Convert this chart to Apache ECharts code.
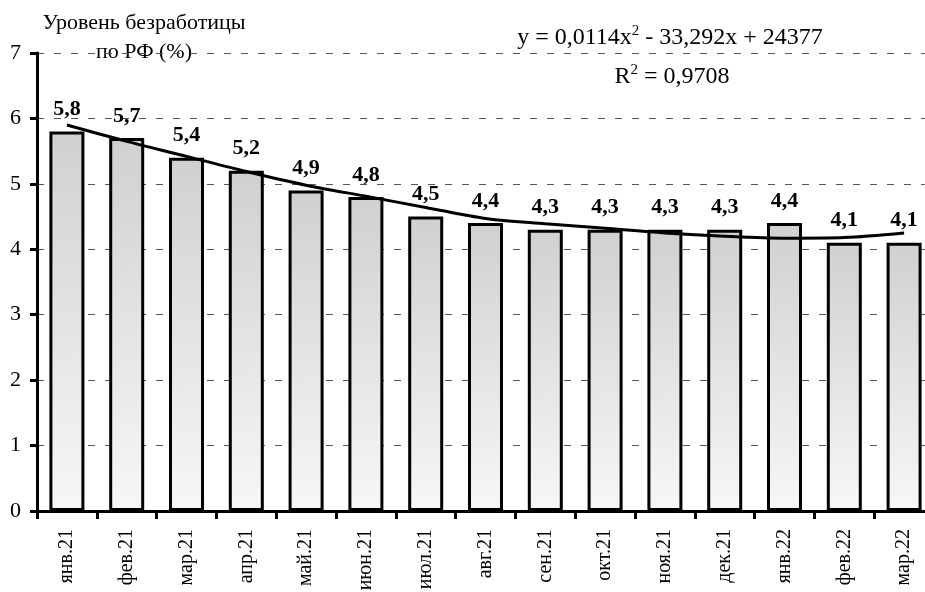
<!DOCTYPE html>
<html>
<head>
<meta charset="utf-8">
<script src="https://cdn.jsdelivr.net/npm/echarts@6/dist/echarts.min.js"></script>
<style>
  html, body { margin: 0; padding: 0; background: #fff; }
  #main { width: 925px; height: 592px; }
</style>
</head>
<body>
<div id="main"></div>
<script>
var months = ['янв.21', 'фев.21', 'мар.21', 'апр.21', 'май.21', 'июн.21', 'июл.21', 'авг.21',
    'сен.21', 'окт.21', 'ноя.21', 'дек.21', 'янв.22', 'фев.22', 'мар.22'];
var unemployment = [5.8, 5.7, 5.4, 5.2, 4.9, 4.8, 4.5, 4.4, 4.3, 4.3, 4.3, 4.3, 4.4, 4.1, 4.1];
var trend = [5.90, 5.65, 5.42, 5.19, 4.98, 4.81, 4.64, 4.47, 4.39, 4.32, 4.25, 4.20, 4.17, 4.18, 4.25];

var serif = '"Liberation Serif", "Times New Roman", serif';

var myChart = echarts.init(document.getElementById('main'));

var option = {
    animation: false,
    grid: {
        left: 37,
        width: 897,   // правый край уходит за кадр, как на исходнике
        top: 53,
        bottom: 81,
        outerBoundsMode: 'none'
    },
    graphic: [
        {
            type: 'text',
            x: 144,
            y: 9,
            style: {
                text: 'Уровень безработицы\nпо РФ (%)',
                font: '22px ' + serif,
                fill: '#000',
                align: 'center',
                lineHeight: 29
            }
        },
        {
            type: 'text',
            x: 670,
            y: 24,
            style: {
                text: '{n|y = 0,0114x}{s|2}{n| - 33,292x + 24377}',
                align: 'center',
                rich: {
                    n: { font: '24px ' + serif, fill: '#000', verticalAlign: 'bottom', lineHeight: 26 },
                    s: { font: '15px ' + serif, fill: '#000', verticalAlign: 'top', lineHeight: 26 }
                }
            }
        },
        {
            type: 'text',
            x: 672,
            y: 63,
            style: {
                text: '{n|R}{s|2}{n| = 0,9708}',
                align: 'center',
                rich: {
                    n: { font: '24px ' + serif, fill: '#000', verticalAlign: 'bottom', lineHeight: 26 },
                    s: { font: '15px ' + serif, fill: '#000', verticalAlign: 'top', lineHeight: 26 }
                }
            }
        }
    ],
    xAxis: {
        type: 'category',
        data: months,
        boundaryGap: true,
        axisLine: { lineStyle: { color: '#000', width: 3 } },
        axisTick: { show: true, length: 8, interval: 0, lineStyle: { color: '#000', width: 3 } },
        axisLabel: {
            interval: 0,
            rotate: 90,
            margin: 18,
            color: '#000',
            fontFamily: serif,
            fontSize: 20
        }
    },
    yAxis: {
        type: 'value',
        min: 0,
        max: 7,
        interval: 1,
        axisLine: { show: true, lineStyle: { color: '#000', width: 3 } },
        axisTick: { show: true, length: 7, lineStyle: { color: '#000', width: 3 } },
        axisLabel: {
            margin: 16,
            color: '#000',
            fontFamily: serif,
            fontSize: 22
        },
        splitLine: {
            show: true,
            lineStyle: { color: '#555', width: 1, type: [7, 10] }
        }
    },
    series: [
        {
            type: 'bar',
            data: unemployment,
            barWidth: 35,
            itemStyle: {
                borderColor: '#000',
                borderWidth: 3,
                color: new echarts.graphic.LinearGradient(0, 0, 0.2, 1, [
                    { offset: 0, color: '#d0d0d0' },
                    { offset: 1, color: '#f7f7f7' }
                ])
            },
            label: {
                show: true,
                position: 'top',
                distance: 11,
                color: '#000',
                fontFamily: serif,
                fontSize: 22,
                fontWeight: 'bold',
                formatter: function (p) {
                    return String(p.value).replace('.', ',');
                }
            },
            z: 2
        },
        {
            type: 'line',
            data: trend,
            smooth: 0.3,
            symbol: 'none',
            lineStyle: { color: '#000', width: 3 },
            z: 3
        }
    ]
};

myChart.setOption(option);
</script>
</body>
</html>
